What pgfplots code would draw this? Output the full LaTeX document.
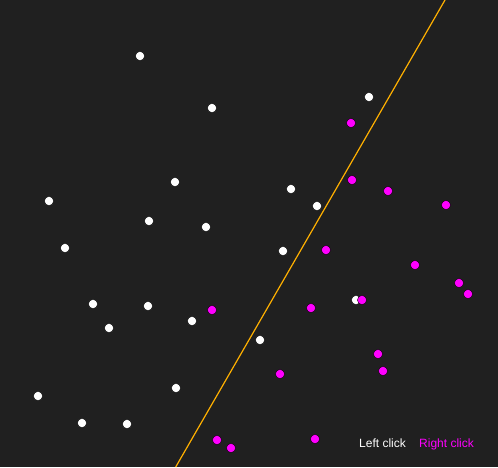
\documentclass[border=0pt]{standalone}
\usepackage{pgfplots}
\pgfplotsset{compat=1.18}
\usepackage{fontspec}
\setmainfont{Liberation Sans}
\definecolor{bg}{RGB}{32,32,32}
\definecolor{sep}{RGB}{255,176,0}
\definecolor{mag}{RGB}{255,0,255}
\begin{document}
\begin{tikzpicture}
\begin{axis}[
    scale only axis,
    width=498pt, height=467pt,
    xmin=0, xmax=498, ymin=0, ymax=467,
    y dir=reverse,
    axis lines=none, ticks=none,
    axis background/.style={fill=bg},
    clip=true]
% left clicks
\addplot[only marks, mark=*, mark size=4.6pt, mark options={fill=white, draw=none}] coordinates {
    (140,56) (212,108) (369,97) (175,182) (49,201) (291,189) (317,206)
    (149,221) (206,227) (65,248) (283,251) (93,304) (148,306) (109,328)
    (192,321) (356,300) (260,340) (176,388) (38,396) (82,423) (127,424)
};
% right clicks
\addplot[only marks, mark=*, mark size=4.6pt, mark options={fill=mag, draw=none}] coordinates {
    (351,123) (352,180) (388,191) (446,205) (326,250) (415,265) (459,283)
    (468,294) (362,300) (212,310) (311,308) (378,354) (383,371) (280,374)
    (217,440) (231,448) (315,439)
};
% separating line
\addplot[sep, line width=1.2pt] coordinates {(175.7,467) (445,0)};
\node[text=white, anchor=base west, inner sep=0pt, font=\fontsize{12}{14}\selectfont] at (axis cs:359,447) {Left click};
\node[text=mag, anchor=base west, inner sep=0pt, font=\fontsize{12}{14}\selectfont] at (axis cs:419,447) {Right click};
\end{axis}
\end{tikzpicture}
\end{document}
